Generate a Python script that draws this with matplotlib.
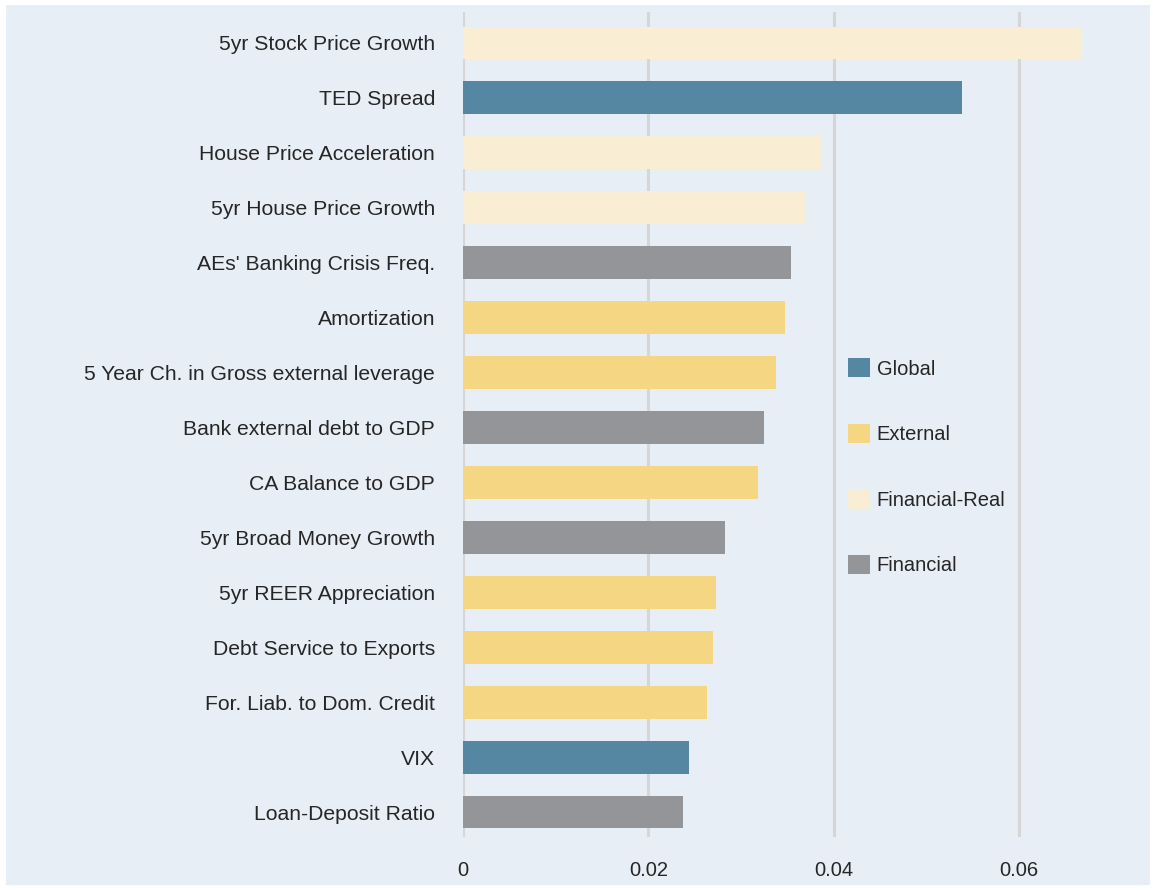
import matplotlib.pyplot as plt
from matplotlib.patches import Patch, Rectangle

# indicators, top to bottom
labels = [
    "5yr Stock Price Growth", "TED Spread", "House Price Acceleration",
    "5yr House Price Growth", "AEs' Banking Crisis Freq.", "Amortization",
    "5 Year Ch. in Gross external leverage", "Bank external debt to GDP",
    "CA Balance to GDP", "5yr Broad Money Growth", "5yr REER Appreciation",
    "Debt Service to Exports", "For. Liab. to Dom. Credit", "VIX",
    "Loan-Deposit Ratio",
]
values = [0.0668, 0.0538, 0.0386, 0.0369, 0.0354, 0.0347, 0.0338, 0.0325,
          0.0318, 0.0283, 0.0273, 0.0270, 0.0263, 0.0244, 0.0237]
groups = ["Financial-Real", "Global", "Financial-Real", "Financial-Real",
          "Financial", "External", "External", "Financial", "External",
          "Financial", "External", "External", "External", "Global", "Financial"]

group_order = ["Global", "External", "Financial-Real", "Financial"]
colors = {"Global": "#5587a2", "External": "#f5d783",
          "Financial-Real": "#f9eed3", "Financial": "#939598"}
xticks = [0, 0.02, 0.04, 0.06]
xticklabels = ["0", "0.02", "0.04", "0.06"]

bg = "#e7eef5"
plt.rcParams['font.family'] = ['Liberation Sans', 'DejaVu Sans']

W, H = 1153, 890
fig = plt.figure(figsize=(W / 100, H / 100), dpi=100, facecolor="white")
# light panel behind everything, thin white margin round it
fig.patches.append(Rectangle((6 / W, 5 / H), (1150 - 6) / W, (885 - 5) / H,
                             transform=fig.transFigure, facecolor=bg,
                             edgecolor="none", zorder=-10))

ax = fig.add_axes([463 / W, (H - 837) / H, (1140 - 463) / W, 825 / H])
ax.set_facecolor(bg)

ypos = list(range(len(labels)))
ax.barh(ypos, values, height=0.6, color=[colors[g] for g in groups],
        edgecolor="none", zorder=2)

ax.set_ylim(14.455, -0.564)
ax.set_xlim(0, 677 / 9267)
ax.set_yticks(ypos)
ax.set_yticklabels(labels, fontsize=15.2, color="#262626")
ax.set_xticks(xticks)
ax.set_xticklabels(xticklabels, fontsize=14.5, color="#262626")
ax.tick_params(axis="y", length=0, pad=20)
ax.tick_params(axis="x", length=0, pad=17)
ax.grid(axis="x", color="#d6d6d6", linewidth=2.2, zorder=1)
ax.set_axisbelow(True)
for s in ax.spines.values():
    s.set_visible(False)

handles = [Patch(facecolor=colors[g], edgecolor="none") for g in group_order]
ax.legend(handles, group_order, loc="upper left",
          bbox_to_anchor=(848 / W, 1 - 358 / H), bbox_transform=fig.transFigure,
          frameon=False, fontsize=14.5, borderpad=0, borderaxespad=0,
          handlelength=1.1, handleheight=1.1, handletextpad=0.33,
          labelspacing=2.24, labelcolor="#262626")

fig.savefig("out.png", dpi=100, facecolor="white")
